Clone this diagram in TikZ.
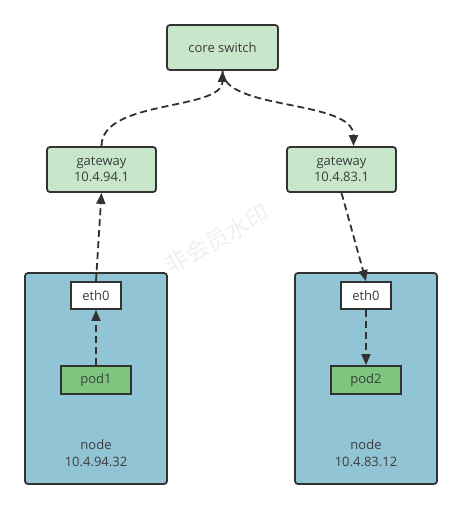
\documentclass[tikz,border=0pt]{standalone}
\usepackage{fontspec}
\setmainfont{Open Sans}
\newfontfamily\cjk{Noto Sans CJK SC}
\usetikzlibrary{arrows.meta}
\definecolor{gwgreen}{RGB}{200,230,202}
\definecolor{podgreen}{RGB}{126,198,128}
\definecolor{hostblue}{RGB}{145,196,213}
\definecolor{edge}{RGB}{50,50,50}
\definecolor{ink}{RGB}{60,60,60}
\begin{document}
\begin{tikzpicture}[x=1pt, y=-1pt,
    font=\fontsize{13}{16.5}\selectfont,
    every node/.style={text=ink, align=center, inner sep=0pt},
    gwbox/.style={draw=edge, line width=1.8pt, fill=gwgreen, rounded corners=3pt,
      minimum width=109pt, minimum height=45pt},
    hostbox/.style={draw=edge, line width=1.8pt, fill=hostblue, rounded corners=3pt,
      minimum width=142pt, minimum height=211pt},
    ethbox/.style={draw=edge, line width=1.8pt, fill=white,
      minimum width=50pt, minimum height=27pt},
    podbox/.style={draw=edge, line width=1.8pt, fill=podgreen,
      minimum width=70pt, minimum height=28pt},
    link/.style={draw=edge, line width=1.8pt, dash pattern=on 7pt off 4pt,
      -{Triangle[length=11pt,width=9pt]}}]
    \useasboundingbox (0,0) rectangle (462,509);
    % watermark
    \node[rotate=29, text=black!6, font=\cjk\fontsize{23}{23}\selectfont] (mark) at (217,239) {非会员水印};
    % switch and gateways
    \node[gwbox, minimum width=111pt] (core) at (222.5,47.5) {core switch};
    \node[gwbox] (gwl) at (101.5,169.5) {gateway\\10.4.94.1};
    \node[gwbox] (gwr) at (341.5,169.5) {gateway\\10.4.83.1};
    % hosts
    \node[hostbox] (hostl) at (96,378.5) {};
    \node[hostbox] (hostr) at (366,378.5) {};
    \node (hostltext) at (96,453) {node\\10.4.94.32};
    \node (hostrtext) at (366,453) {node\\10.4.83.12};
    \node[ethbox] (ethl) at (96,295.5) {eth0};
    \node[ethbox] (ethr) at (366,295.5) {eth0};
    \node[podbox] (podl) at (96,380) {pod1};
    \node[podbox] (podr) at (366,380) {pod2};
    % traffic
    \draw[link] (podl.north) -- (ethl.south);
    \draw[link] (ethl.north) -- (gwl.south);
    \draw[link] (gwl.north) .. controls +(0,-47) and +(0,40) .. (core.south);
    \draw[link] (core.south) .. controls +(0,40) and +(0,-47) .. ([xshift=12pt]gwr.north);
    \draw[link] (gwr.south) -- (ethr.north);
    \draw[link] (ethr.south) -- (podr.north);
\end{tikzpicture}
\end{document}
